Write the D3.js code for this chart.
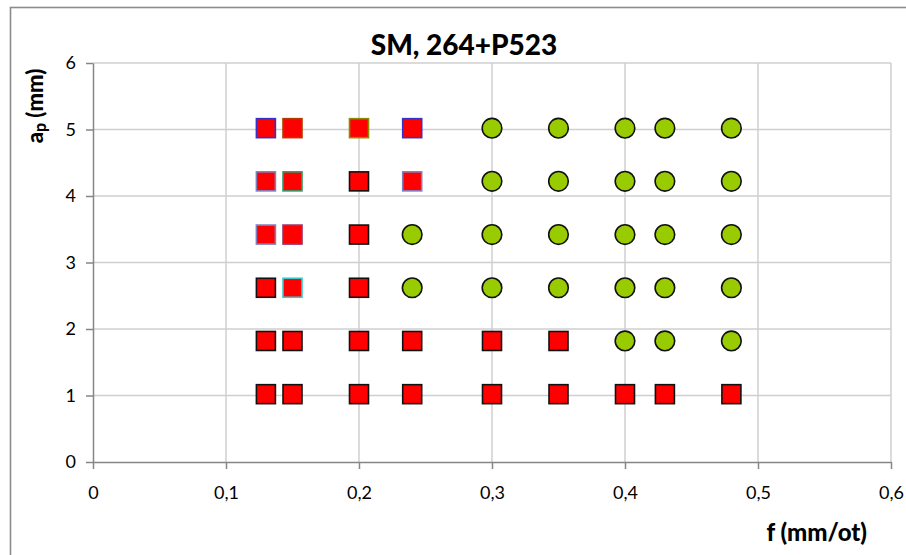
<!DOCTYPE html>
<html>
<head>
<meta charset="utf-8">
<script src="https://cdn.jsdelivr.net/npm/d3@7"></script>
<style>
  body { margin: 0; background: #fff; }
  svg { display: block; font-family: Lato, "Open Sans", sans-serif; }
</style>
</head>
<body>
<svg id="chart" width="906" height="555"></svg>
<script>
// feed values f (mm/ot) and depth of cut ap (mm)
const fValues = [0.13, 0.15, 0.2, 0.24, 0.3, 0.35, 0.4, 0.43, 0.48];
const apValues = [1.02, 1.82, 2.62, 3.42, 4.22, 5.02];
// one string per ap row, one letter per f value: S = red square, C = green circle
const outcome = [
    "SSSSSSSSS",
    "SSSSSSCCC",
    "SSSCCCCCC",
    "SSSCCCCCC",
    "SSSSCCCCC",
    "SSSSCCCCC"
];
const xTicks = [0, 0.1, 0.2, 0.3, 0.4, 0.5, 0.6];
const yTicks = [0, 1, 2, 3, 4, 5, 6];

// some markers keep the edge colour of their original series (row,col -> colour)
const edgeColors = {
    "5,0": "#3333cc", "5,1": "#b33a00", "5,2": "#8c8c00", "5,3": "#3333cc",
    "4,0": "#7f7fbf", "4,1": "#339966", "4,3": "#7f7fbf",
    "3,0": "#7f7fbf", "3,1": "#993366",
    "2,1": "#33cccc"
};

const svg = d3.select("#chart");

// outer chart frame
svg.append("rect")
    .attr("x", 10.5).attr("y", 7.5)
    .attr("width", 920).attr("height", 600)
    .attr("fill", "none")
    .attr("stroke", "#8c8c8c")
    .attr("stroke-width", 1.6);

const x = d3.scaleLinear().domain([0, 0.6]).range([93, 891]);
const y = d3.scaleLinear().domain([0, 6]).range([462, 63]);

// gridlines
const grid = svg.append("g").attr("class", "grid");
grid.selectAll(".vgrid").data(xTicks.slice(1)).enter().append("line")
    .attr("class", "vgrid")
    .attr("x1", d => x(d)).attr("x2", d => x(d))
    .attr("y1", y(0)).attr("y2", y(6))
    .attr("stroke", "#cfcfcf").attr("stroke-width", 1.5);
grid.selectAll(".hgrid").data(yTicks.slice(1)).enter().append("line")
    .attr("class", "hgrid")
    .attr("x1", x(0)).attr("x2", x(0.6))
    .attr("y1", d => y(d)).attr("y2", d => y(d))
    .attr("stroke", "#cfcfcf").attr("stroke-width", 1.5);

const fmtX = d => d === 0 ? "0" : d3.format(".1f")(d).replace(".", ",");

const xAxis = svg.append("g")
    .attr("transform", `translate(0,${y(0)})`)
    .call(d3.axisBottom(x).tickValues(xTicks).tickFormat(fmtX).tickSize(7).tickPadding(17).tickSizeOuter(0));
const yAxis = svg.append("g")
    .attr("transform", `translate(${x(0)},0)`)
    .call(d3.axisLeft(y).tickValues(yTicks).tickFormat(d3.format("d")).tickSize(7).tickPadding(10).tickSizeOuter(0));

[xAxis, yAxis].forEach(a => {
    a.selectAll(".domain").attr("stroke", "#868686").attr("stroke-width", 1.5);
    a.selectAll(".tick line").attr("stroke", "#868686").attr("stroke-width", 1.5);
    a.selectAll(".tick text")
        .attr("fill", "#000")
        .style("font-family", "Lato, sans-serif")
        .style("font-size", "18px");
});

// points
const points = [];
outcome.forEach((row, i) => {
    row.split("").forEach((kind, j) => {
        points.push({ f: fValues[j], ap: apValues[i], kind: kind, key: i + "," + j });
    });
});

const marks = svg.append("g").attr("class", "marks");
const size = 19;

marks.selectAll(".sq").data(points.filter(p => p.kind === "S")).enter().append("rect")
    .attr("class", "sq")
    .attr("x", d => x(d.f) - size / 2)
    .attr("y", d => y(d.ap) - size / 2)
    .attr("width", size).attr("height", size)
    .attr("fill", "#ff0000")
    .attr("stroke", d => edgeColors[d.key] || "#111")
    .attr("stroke-width", 1.6);

marks.selectAll(".ci").data(points.filter(p => p.kind === "C")).enter().append("circle")
    .attr("class", "ci")
    .attr("cx", d => x(d.f))
    .attr("cy", d => y(d.ap))
    .attr("r", size / 2 + 0.3)
    .attr("fill", "#99cc00")
    .attr("stroke", "#111")
    .attr("stroke-width", 1.6);

// title and axis titles
svg.append("text")
    .attr("x", 464).attr("y", 55)
    .attr("text-anchor", "middle")
    .style("font-size", "28px").style("font-weight", "900")
    .text("SM, 264+P523");

const yt = svg.append("text")
    .attr("transform", "translate(43,106) rotate(-90)")
    .attr("text-anchor", "middle")
    .style("font-size", "22px").style("font-weight", "900");
yt.append("tspan").text("a");
yt.append("tspan").attr("font-size", "16px").attr("dy", 3).text("p");
yt.append("tspan").attr("dy", -3).text(" (mm)");

svg.append("text")
    .attr("x", 867).attr("y", 541)
    .attr("text-anchor", "end")
    .style("font-size", "24px").style("font-weight", "900")
    .text("f (mm/ot)");
</script>
</body>
</html>
